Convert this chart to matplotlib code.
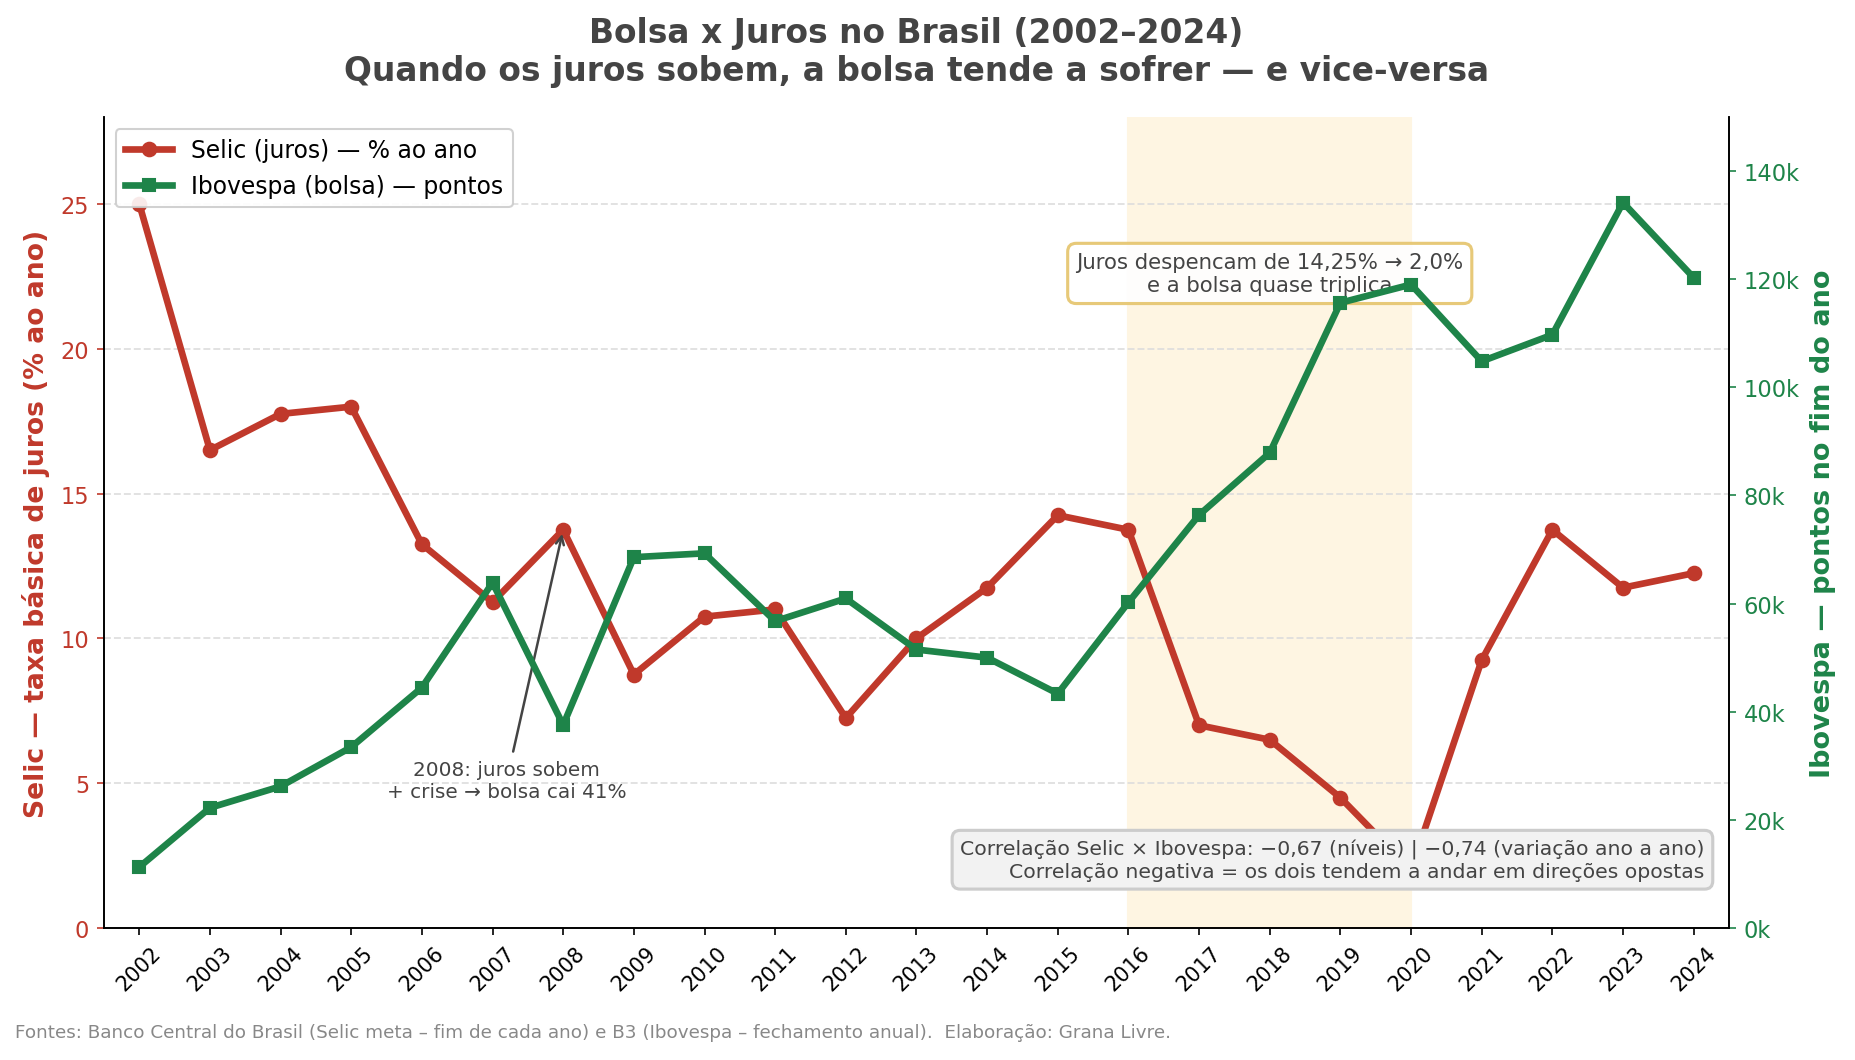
import matplotlib
matplotlib.use('Agg')
import matplotlib.pyplot as plt
import numpy as np

# dados: fim de cada ano
anos = list(range(2002, 2025))
selic = [25.0, 16.5, 17.75, 18.0, 13.25, 11.25, 13.75, 8.75, 10.75, 11.0, 7.25, 10.0,
         11.75, 14.25, 13.75, 7.0, 6.5, 4.5, 2.0, 9.25, 13.75, 11.75, 12.25]
ibovespa = [11268, 22236, 26196, 33456, 44473, 63886, 37550, 68588, 69305, 56754, 60952, 51507,
            50007, 43350, 60227, 76402, 87887, 115645, 119017, 104822, 109735, 134185, 120283]

RED = '#c0392b'
GREEN = '#1e8449'
DARK = '#444444'

fig = plt.figure(figsize=(12.373, 7.073), dpi=150)
ax = fig.add_axes([0.056, 0.1244, 0.8756, 0.7644])
ax2 = ax.twinx()

ax.axvspan(2016, 2020, color='#fef5e2', zorder=0)

l1, = ax.plot(anos, selic, color=RED, lw=3.2, marker='o', ms=6.5, zorder=3,
              label='Selic (juros) — % ao ano')
l2, = ax2.plot(anos, ibovespa, color=GREEN, lw=3.2, marker='s', ms=6, zorder=3,
               label='Ibovespa (bolsa) — pontos')

ax.set_xlim(2001.5, 2024.5)
ax.set_ylim(0, 28)
ax2.set_ylim(0, 150000)
ax.set_xticks(anos)
ax.set_xticklabels([str(a) for a in anos], rotation=45, fontsize=10)
ax.set_yticks([0, 5, 10, 15, 20, 25])
ax2.set_yticks(np.arange(0, 140001, 20000))
ax2.set_yticklabels([f'{int(v/1000)}k' for v in np.arange(0, 140001, 20000)])

ax.tick_params(axis='y', colors=RED, labelsize=10.8)
ax.tick_params(axis='x', labelsize=10)
ax2.tick_params(axis='y', colors=GREEN, labelsize=10.8)
for t in ax.get_yticklines() + ax2.get_yticklines():
    t.set_color('black')

ax.grid(axis='y', ls='--', color='#dddddd', lw=0.9, alpha=0.9)
ax.set_axisbelow(True)
for a in (ax, ax2):
    a.spines['top'].set_visible(False)
ax.set_ylabel('Selic — taxa básica de juros (% ao ano)', color=RED, fontsize=12.8, fontweight='bold', labelpad=5)
ax2.set_ylabel('Ibovespa — pontos no fim do ano', color=GREEN, fontsize=13, fontweight='bold', labelpad=5)

ax.set_title('Bolsa x Juros no Brasil (2002–2024)\nQuando os juros sobem, a bolsa tende a sofrer — e vice-versa',
             fontsize=15.8, fontweight='bold', color=DARK, pad=17.7)

ax.annotate('2008: juros sobem\n+ crise → bolsa cai 41%', xy=(2008, 13.75), xytext=(2007.2, 5.1),
            ha='center', va='center', fontsize=9.6, color=DARK,
            arrowprops=dict(arrowstyle='->', color=DARK, lw=1.2))

ax.text(2018.0, 22.6, 'Juros despencam de 14,25% → 2,0%\ne a bolsa quase triplica',
        ha='center', va='center', fontsize=10.2, color=DARK, zorder=4,
        bbox=dict(boxstyle='round,pad=0.4', fc='white', ec='#e5c46b', lw=1.5, alpha=0.9))

ax2.text(0.985, 0.058,
         'Correlação Selic × Ibovespa: −0,67 (níveis) | −0,74 (variação ano a ano)\n'
         'Correlação negativa = os dois tendem a andar em direções opostas',
         transform=ax2.transAxes, ha='right', va='bottom', multialignment='right',
         fontsize=9.75, color=DARK, zorder=5,
         bbox=dict(boxstyle='round,pad=0.4', fc='#f2f2f2', ec='#cccccc', lw=1.5))

ax.legend(handles=[l1, l2], loc='upper left', fontsize=11.3, framealpha=0.9)

fig.text(0.008, 0.026, 'Fontes: Banco Central do Brasil (Selic meta – fim de cada ano) e B3 (Ibovespa – fechamento anual).  Elaboração: Grana Livre.',
         fontsize=8.8, color='#888888', va='center')

fig.savefig('out.png', dpi=150)
